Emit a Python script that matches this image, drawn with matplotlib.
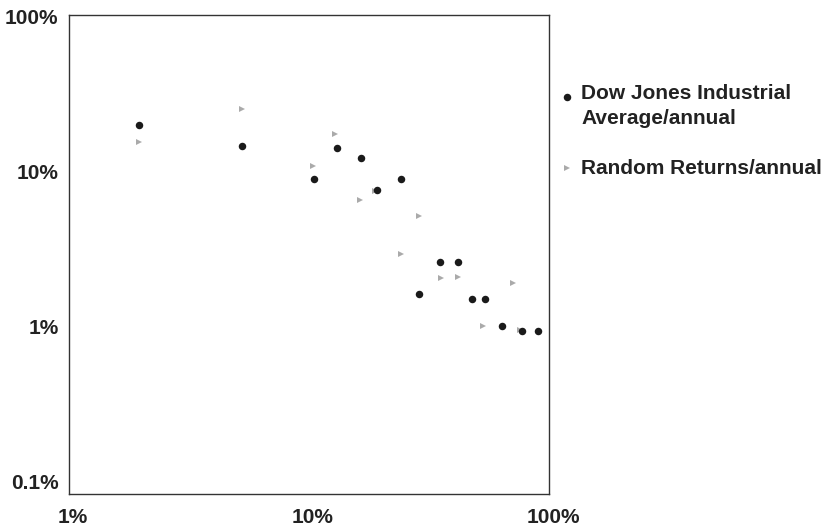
import matplotlib.pyplot as plt
import matplotlib.transforms as mtransforms
from matplotlib.lines import Line2D

plt.rcParams['font.family'] = ['Liberation Sans', 'DejaVu Sans']

# annual values, in percent
dow_x = [1.96, 5.26, 13.1, 10.5, 16.5, 24.2, 19.2, 35.1, 41.8, 28.7, 47.8, 54.1, 63.7, 77.2, 90.0]
dow_y = [19.9, 14.6, 14.2, 8.93, 12.2, 8.93, 7.58, 2.61, 2.61, 1.62, 1.51, 1.51, 1.01, 0.94, 0.94]

rand_x = [1.96, 5.26, 12.8, 10.4, 18.8, 16.3, 28.7, 24.2, 35.5, 41.8, 70.8, 53.1, 75.7]
rand_y = [15.4, 25.2, 17.4, 10.8, 7.47, 6.54, 5.16, 2.94, 2.06, 2.09, 1.91, 1.01, 0.95]

tick_vals = [1, 10, 100]
ytick_vals = [0.1, 1, 10, 100]
tick_labels = ['1%', '10%', '100%']
ytick_labels = ['0.1%', '1%', '10%', '100%']

fig = plt.figure(figsize=(8.29, 5.26), dpi=100)
ax = fig.add_axes([69 / 829, 1 - 494 / 526, 480 / 829, 479 / 526])

ax.plot(rand_x, rand_y, linestyle='none', marker='>', markersize=4.5,
        color='#aaaaaa', markeredgewidth=0, zorder=2)
ax.plot(dow_x, dow_y, linestyle='none', marker='o', markersize=5.4,
        color='#1a1a1a', markeredgewidth=0, zorder=3)

ax.set_xscale('log')
ax.set_yscale('log')
ax.set_xlim(1, 100)
ax.set_ylim(0.0837, 101.5)
ax.minorticks_off()
ax.set_xticks(tick_vals)
ax.set_xticklabels(tick_labels)
ax.set_yticks(ytick_vals)
ax.set_yticklabels(ytick_labels)
ax.tick_params(length=0, labelsize=15, colors='#222222')
ax.tick_params(axis='x', pad=10)
ax.tick_params(axis='y', pad=7.5)
shift = mtransforms.ScaledTranslation(4 / 100, 0, fig.dpi_scale_trans)
for lab in ax.get_xticklabels():
    lab.set_transform(lab.get_transform() + shift)
for lab in ax.get_xticklabels() + ax.get_yticklabels():
    lab.set_fontweight('bold')
for sp in ax.spines.values():
    sp.set_color('#333333')
    sp.set_linewidth(1.0)

# legend, drawn by hand to the right of the plot
fig.add_artist(Line2D([567 / 829], [1 - 97 / 526], transform=fig.transFigure,
                      marker='o', markersize=5.4, color='#1a1a1a', markeredgewidth=0))
fig.text(581 / 829, 1 - 106 / 526, 'Dow Jones Industrial\nAverage/annual',
         fontsize=15, fontweight='bold', color='#222222', va='center', ha='left',
         linespacing=1.35)
fig.add_artist(Line2D([567 / 829], [1 - 168 / 526], transform=fig.transFigure,
                      marker='>', markersize=4.5, color='#aaaaaa', markeredgewidth=0))
fig.text(581 / 829, 1 - 168 / 526, 'Random Returns/annual',
         fontsize=15, fontweight='bold', color='#222222', va='center', ha='left')

fig.savefig('out.png', dpi=100)
